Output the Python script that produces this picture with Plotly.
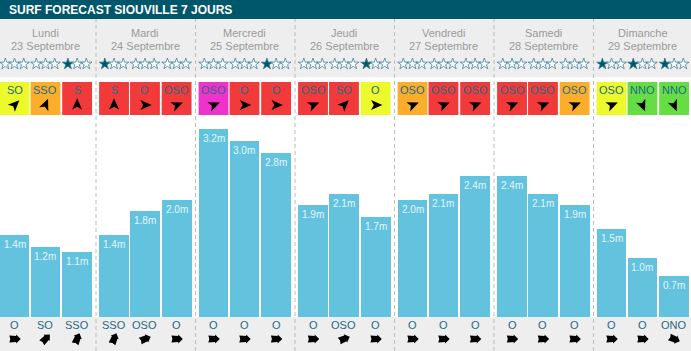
import math
import plotly.graph_objects as go

W, H = 691, 351
TITLE = "SURF FORECAST SIOUVILLE 7 JOURS"
days = ["Lundi", "Mardi", "Mercredi", "Jeudi", "Vendredi", "Samedi", "Dimanche"]
dates = ["23 Septembre", "24 Septembre", "25 Septembre", "26 Septembre",
         "27 Septembre", "28 Septembre", "29 Septembre"]
heights = [1.4, 1.2, 1.1, 1.4, 1.8, 2.0, 3.2, 3.0, 2.8, 1.9, 2.1, 1.7,
           2.0, 2.1, 2.4, 2.4, 2.1, 1.9, 1.5, 1.0, 0.7]
ratings = [0, 0, 1, 1, 0, 0, 0, 0, 1, 0, 0, 1, 0, 0, 0, 0, 0, 0, 1, 1, 1]
wind_dirs = ["SO", "SSO", "S", "S", "O", "OSO", "OSO", "O", "O", "OSO", "SO", "O",
             "OSO", "OSO", "OSO", "OSO", "OSO", "OSO", "OSO", "NNO", "NNO"]
wind_levels = ["y", "o", "r", "r", "r", "r", "m", "r", "r", "r", "r", "y",
               "o", "r", "r", "r", "r", "o", "y", "g", "g"]
swell_dirs = ["O", "SO", "SSO", "SSO", "OSO", "O", "O", "O", "O", "O", "OSO", "O",
              "O", "O", "O", "O", "O", "O", "O", "O", "ONO"]

LEVEL_COLORS = {"y": "#ecf92b", "o": "#fbae2c", "r": "#f33a3a", "m": "#ee33cc", "g": "#66dd44"}
COMPASS = {"S": 0, "SSO": 22.5, "SO": 45, "OSO": 67.5, "O": 90, "ONO": 112.5, "NNO": 157.5}
TEAL = "#00576c"
LABEL = "#1f6a85"
BAR = "#63c3de"
BAND = "#eeeeee"
FONT = "Liberation Sans"

PERIOD = 99.5                # pixels per day
PX_PER_M = 58.7
BASE = 317                   # pixel row of 0 m
SLOT = [0.146, 0.457, 0.775]  # centre of each slot within a day
BAR_W = 0.30


def slot_x(i):
    return i // 3 + SLOT[i % 3]


def yp(py):
    return 1 - py / H


def rotated(points, deg):
    a = math.radians(deg)
    out = []
    for x, y in points:
        out.append((x * math.cos(a) + y * math.sin(a), -x * math.sin(a) + y * math.cos(a)))
    return "M" + "L".join(f"{x:.2f},{y:.2f}" for x, y in out) + "Z"


NAV = [(0, 6.8), (-5.0, -4.6), (0, -1.8), (5.0, -4.6)]
BLOCK = [(0, 6.2), (4.4, 1.6), (3.0, 1.6), (3.6, -5.2), (0, -4.2), (-3.6, -5.2), (-3.0, 1.6), (-4.4, 1.6)]

xs = [slot_x(i) for i in range(len(heights))]

fig = go.Figure()
fig.add_bar(x=xs, y=heights, width=BAR_W, marker=dict(color=BAR, line=dict(width=0)),
            hoverinfo="skip", showlegend=False)

# star ratings
star_x, star_y, star_fill = [], [], []
for i, r in enumerate(ratings):
    for k in range(3):
        star_x.append(xs[i] + (k - 1) * 9.2 / PERIOD)
        star_y.append((BASE - 64) / PX_PER_M)
        star_fill.append(TEAL if k < r else "white")
fig.add_scatter(x=star_x, y=star_y, mode="markers", showlegend=False, hoverinfo="skip",
                marker=dict(symbol="star", size=8.5, color=star_fill, line=dict(color="#2a7488", width=0.7)))

shapes = [
    dict(type="rect", xref="paper", yref="paper", x0=0, x1=1, y0=yp(77), y1=yp(19),
         fillcolor=BAND, line_width=0, layer="below"),
    dict(type="rect", xref="paper", yref="paper", x0=0, x1=1, y0=0, y1=yp(BASE),
         fillcolor=BAND, line_width=0, layer="below"),
    dict(type="rect", xref="paper", yref="paper", x0=0, x1=1, y0=yp(19), y1=1,
         fillcolor=TEAL, line_width=0, layer="below"),
]
for d in range(1, 7):
    shapes.append(dict(type="line", xref="x", yref="paper", x0=d - 0.035, x1=d - 0.035,
                       y0=0, y1=yp(19), line=dict(color="#bdbdbd", width=1, dash="4px,3px"),
                       layer="below"))

annotations = [dict(text=f"<b>{TITLE}</b>", xref="paper", yref="paper", x=7 / W, y=yp(9.5),
                    xanchor="left", yanchor="middle", showarrow=False,
                    font=dict(family=FONT, size=12, color="white"))]


def text(x, py, s, size, color):
    annotations.append(dict(text=s, xref="x", yref="paper", x=x, y=yp(py), xanchor="center",
                            yanchor="middle", showarrow=False,
                            font=dict(family=FONT, size=size, color=color)))


for d, (name, date) in enumerate(zip(days, dates)):
    text(d + 0.462, 33, name, 11, "#9a9a9a")
    text(d + 0.462, 46, date, 11, "#9a9a9a")

for i, x in enumerate(xs):
    shapes.append(dict(type="rect", xref="x", yref="paper", x0=x - BAR_W / 2, x1=x + BAR_W / 2,
                       y0=yp(115), y1=yp(82), fillcolor=LEVEL_COLORS[wind_levels[i]], line_width=0))
    text(x, 89.5, wind_dirs[i], 11, LABEL)
    text(x, 325, swell_dirs[i], 11, LABEL)
    shapes.append(dict(type="path", xref="x", yref="y", xsizemode="pixel", ysizemode="pixel",
                       xanchor=x, yanchor=(BASE - 105) / PX_PER_M,
                       path=rotated(NAV, COMPASS[wind_dirs[i]]), fillcolor="black", line_width=0))
    shapes.append(dict(type="path", xref="x", yref="y", xsizemode="pixel", ysizemode="pixel",
                       xanchor=x, yanchor=(BASE - 339) / PX_PER_M,
                       path=rotated(BLOCK, COMPASS[swell_dirs[i]]), fillcolor="black", line_width=0))
    annotations.append(dict(text=f"{heights[i]:.1f}m", x=x, y=heights[i], xref="x", yref="y",
                            yshift=-9.5, xanchor="center", yanchor="middle", showarrow=False,
                            font=dict(family=FONT, size=10, color="#e4f5fa")))

fig.update_layout(
    width=W, height=H, margin=dict(l=0, r=0, t=0, b=0, pad=0), autosize=False,
    paper_bgcolor="white", plot_bgcolor="rgba(0,0,0,0)", showlegend=False,
    shapes=shapes, annotations=annotations, bargap=0,
    xaxis=dict(range=[0, W / PERIOD], visible=False, fixedrange=True),
    yaxis=dict(range=[(BASE - H) / PX_PER_M, BASE / PX_PER_M], visible=False, fixedrange=True),
)
fig.write_html("out.html", config={"displayModeBar": False},
               post_script="document.body.style.margin='0';")
